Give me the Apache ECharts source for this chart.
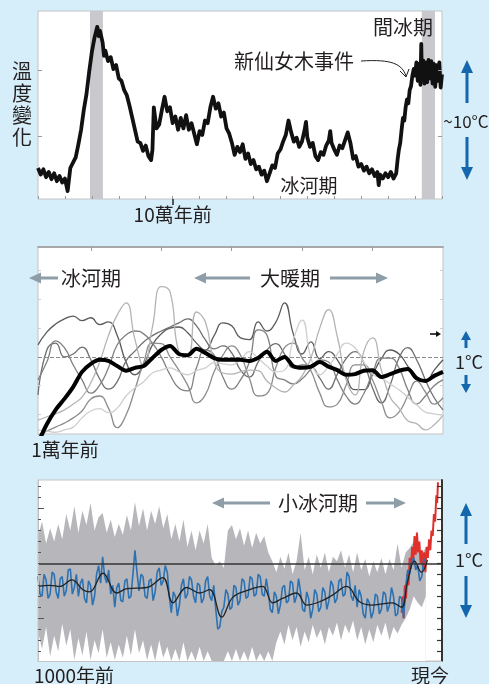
<!DOCTYPE html>
<html>
<head>
<meta charset="utf-8">
<script src="https://cdn.jsdelivr.net/npm/echarts@6/dist/echarts.min.js"></script>
<style>
  html, body { margin: 0; padding: 0; background: #d6eef9; }
  #main { width: 489px; height: 684px; }
</style>
</head>
<body>
<div id="main"></div>
<script>
// ---- panel 1: ice core, 150k years (kyr, degC) ----
const iceCore = [
  [-150,-14.8],[-149,-15.8],[-148,-15.0],[-147,-16.2],[-146,-15.4],[-145,-16.5],[-144,-15.6],[-143,-16.8],[-142,-16.0],[-141,-17.0],
  [-140,-16.4],[-139,-18.3],[-138,-14.8],[-137,-14.0],[-136,-13.2],[-135,-11.2],[-134,-9.0],[-133,-6.0],[-132,-3.6],[-131,-0.2],
  [-130,2.8],[-129,5.0],[-128.5,5.8],[-128,6.6],[-127.5,5.2],[-127,6.0],[-126,4.2],[-125.5,2.2],[-125,3.0],[-124,1.4],[-123,2.0],
  [-122,0.2],[-121,0.8],[-120,-1.2],[-119,-1.6],[-118,-3.0],[-117,-3.8],[-116,-5.4],[-115,-7.2],[-114,-9.0],[-113,-10.8],[-112,-11.0],
  [-111,-12.2],[-110,-11.4],[-109,-13.0],[-108,-13.6],[-107.5,-12.0],[-107,-5.6],[-106,-8.8],[-105,-8.2],[-104,-6.0],[-103,-4.0],
  [-102,-6.2],[-101,-5.6],[-100,-8.0],[-99,-7.0],[-98,-9.0],[-97,-7.2],[-96,-8.8],[-95,-6.8],[-94,-9.0],[-93,-8.0],[-92,-9.6],
  [-91,-11.2],[-90,-9.2],[-89,-9.8],[-88,-7.6],[-87,-8.0],[-86,-5.6],[-85,-4.0],[-84,-5.8],[-83,-5.0],[-82,-7.0],[-81,-6.4],
  [-80,-8.8],[-79,-9.6],[-78,-11.0],[-77,-12.8],[-76,-11.6],[-75,-12.4],[-74,-11.2],[-73,-13.4],[-72,-12.6],[-71,-14.2],[-70,-13.6],
  [-69,-15.0],[-68,-14.6],[-67,-15.8],[-66,-15.2],[-65,-16.8],[-64,-15.6],[-63,-14.4],[-62,-14.8],[-61,-12.6],[-60,-12.0],
  [-59,-10.8],[-58,-9.8],[-57,-7.6],[-56,-9.4],[-55,-10.8],[-54,-10.2],[-53,-11.6],[-52,-10.8],[-51,-9.0],[-50.5,-7.8],[-50,-10.2],
  [-49,-11.6],[-48,-11.0],[-47,-13.0],[-46,-13.6],[-45,-12.4],[-44,-12.8],[-43,-11.4],[-42,-10.6],[-41.5,-9.2],[-41,-11.0],
  [-40,-12.0],[-39,-12.8],[-38,-11.4],[-37,-11.8],[-36,-10.6],[-35,-9.4],[-34,-11.0],[-33,-13.4],[-32,-13.0],[-31,-14.6],
  [-30,-14.2],[-29,-15.2],[-28,-14.6],[-27,-15.6],[-26,-15.0],[-25,-16.0],[-24,-15.4],[-23.5,-17.4],[-23,-15.8],[-22,-16.4],
  [-21,-15.6],[-20,-16.2],[-19,-15.4],[-18,-16.4],[-17,-15.6],[-16.5,-13.6],[-16,-12.0],[-15.5,-11.0],[-15,-9.0],[-14.5,-7.2],
  [-14,-7.6],[-13.5,-5.6],[-13,-4.4],[-12.5,-5.0],[-12,-3.0],[-11.5,-2.4],[-11,-0.8],[-10.5,0.2],[-10,-0.8],[-9.5,1.2],[-9,-1.6],
  [-8.5,1.0],[-8,-2.2],[-7.7,4.0],[-7.5,-0.5],[-7,1.5],[-6.5,-2.0],[-6,1.2],[-5.5,-1.8],[-5,1.6],[-4.5,-1.2],[-4,1.4],[-3.5,-2.0],
  [-3,1.0],[-2.5,-2.5],[-2,0.8],[-1.5,-1.6],[-1,1.2],[-0.5,-2.6],[0,-0.6]
];
const warmBands = [[-130.7, -125.9], [-7.5, -2.6]];

// ---- panel 2: holocene reconstructions (kyr, degC) ----
const holoKyr = [-11.5,-11.25,-11,-10.75,-10.5,-10.25,-10,-9.75,-9.5,-9.25,-9,-8.75,-8.5,-8.25,-8,-7.75,-7.5,-7.25,-7,-6.75,
  -6.5,-6.25,-6,-5.75,-5.5,-5.25,-5,-4.75,-4.5,-4.25,-4,-3.75,-3.5,-3.25,-3,-2.75,-2.5,-2.25,-2,-1.75,-1.5,-1.25,-1,-0.75,-0.5,-0.25,0];
const proxyA = [0.21,0.43,0.57,0.66,0.71,0.63,0.68,0.56,0.61,0.37,-0.09,-0.31,-0.14,0.21,0.40,0.50,0.52,0.42,0.24,0.12,0.37,0.59,0.54,0.33,
  0.30,0.61,0.45,0.60,0.94,0.40,0.05,0.26,-0.03,0.09,-0.05,-0.35,-0.57,-0.57,-0.31,-0.03,0.12,0.05,-0.16,-0.40,-0.43,-0.23,-0.05];
const proxyB = [-0.66,0.12,0.24,0,0.05,0.17,-0.05,-0.38,-0.56,-0.43,-0.07,0.10,0.26,0.37,0.45,0.52,0.59,0.66,0.54,0.30,0.14,0.19,0.07,-0.23,
  -0.35,-0.09,0.12,0.23,0.05,-0.19,-0.14,-0.16,-0.37,-0.56,-0.30,-0.03,0.09,-0.10,-0.54,-0.80,-0.49,-0.02,0.16,-0.05,-0.40,-0.71,-0.92];
const proxyC = [-0.40,-0.09,0.28,0.16,-0.14,-0.40,-0.63,-0.49,-0.19,0.21,0.38,0.45,0.40,0.24,0,-0.31,-0.54,-0.59,-0.19,0.12,0.03,-0.35,-0.56,
  -0.40,-0.09,0.47,0.38,-0.33,-0.40,-0.47,-0.38,-0.21,-0.05,-0.09,-0.40,-0.68,-0.82,-0.64,-0.28,-0.02,-0.02,-0.19,-0.57,-0.82,-0.68,-0.50,-0.40];
const proxyD = [-1.36,-1.29,-1.22,-1.15,-1.06,-0.94,-0.73,-0.68,-0.89,-1.23,-1.01,-0.57,-0.10,0.24,0.23,0,-0.23,-0.49,-0.80,-0.66,-0.26,0.03,
  0.19,0.03,-0.37,-0.68,-0.64,-0.19,0.16,0.24,-0.02,-0.24,-0.63,-0.87,-0.82,-0.49,-0.14,-0.14,-0.40,-0.78,-1.06,-0.96,-0.68,-0.42,-0.61,-0.82,-0.71];
const proxyE = [-1.10,-1.04,-0.99,-0.92,-0.82,-0.70,-0.45,-0.09,0.37,0.73,0.94,0.31,-0.16,0.52,1.22,1.13,0.09,0.02,0.78,0.61,-0.07,-0.28,-0.30,
  -0.26,-0.23,-0.24,-0.42,-0.54,-0.61,-0.49,-0.33,-0.02,0.50,0.82,0.35,-0.40,-0.66,0.09,0.33,-0.23,-0.70,-0.89,-1.11,-1.16,-1.27,-1.18,-1.01];
const proxyF = [-1.27,-1.29,-1.31,-1.27,-1.22,-1.06,-0.94,-0.90,-0.97,-0.89,-0.68,-0.54,-0.43,-0.28,-0.23,-0.19,-0.26,-0.31,-0.24,-0.19,-0.10,
  -0.12,-0.14,-0.05,0.09,-0.02,-0.16,-0.26,-0.23,0.30,0.64,-0.02,-0.31,-0.16,0.05,0.24,0.16,-0.09,-0.30,-0.37,-0.47,-0.57,-0.70,-0.83,-0.96,-0.99,-1.01];
const holoMean = [-1.50,-1.17,-0.92,-0.73,-0.52,-0.26,-0.12,-0.05,-0.07,-0.16,-0.24,-0.19,-0.16,-0.02,0.12,0.19,0.05,0.03,0.14,0.07,-0.02,-0.05,
  -0.05,-0.05,-0.07,-0.02,0.09,-0.07,0,-0.16,-0.19,-0.17,-0.09,-0.17,-0.23,-0.31,-0.30,-0.24,-0.23,-0.35,-0.30,-0.24,-0.21,-0.37,-0.42,-0.33,-0.26];

// ---- panel 3: last millennium (year, degC) ----
// blue reconstruction, every 5 years from 1000
const blueStart = 1000, blueStep = 5;
const reconBlue = [
  -0.12,-0.28,-0.30,-0.10,-0.15,-0.32,-0.28,-0.08,-0.10,-0.26,-0.32,-0.14,-0.12,-0.30,-0.25,-0.06,-0.05,-0.28,-0.22,-0.10,
  -0.30,-0.18,-0.14,-0.32,-0.36,-0.16,-0.20,-0.38,-0.30,-0.10,-0.02,-0.18,0.06,-0.12,-0.18,-0.06,-0.28,-0.20,-0.40,-0.22,
  -0.18,-0.34,-0.35,-0.16,-0.14,-0.32,-0.30,-0.10,0.12,-0.08,-0.25,-0.10,-0.12,-0.30,-0.32,-0.16,-0.14,-0.34,-0.26,-0.08,
  -0.04,-0.20,-0.16,-0.02,-0.08,-0.30,-0.45,-0.26,-0.30,-0.48,-0.38,-0.20,-0.14,-0.32,-0.28,-0.12,-0.15,-0.30,-0.36,-0.18,
  -0.20,-0.36,-0.32,-0.16,-0.12,-0.30,-0.34,-0.20,-0.42,-0.60,-0.58,-0.44,-0.40,-0.24,-0.28,-0.42,-0.40,-0.20,-0.22,-0.38,
  -0.34,-0.14,-0.16,-0.32,-0.30,-0.12,-0.14,-0.30,-0.28,-0.10,-0.12,-0.28,-0.30,-0.14,-0.26,-0.42,-0.45,-0.26,-0.30,-0.46,
  -0.38,-0.22,-0.20,-0.36,-0.34,-0.16,-0.18,-0.36,-0.30,-0.14,-0.26,-0.42,-0.44,-0.26,-0.32,-0.50,-0.42,-0.24,-0.28,-0.44,
  -0.40,-0.22,-0.26,-0.42,-0.34,-0.16,-0.20,-0.36,-0.32,-0.16,-0.14,-0.30,-0.28,-0.08,-0.12,-0.30,-0.34,-0.20,-0.40,-0.24,
  -0.30,-0.46,-0.50,-0.32,-0.36,-0.50,-0.44,-0.28,-0.30,-0.46,-0.42,-0.26,-0.28,-0.44,-0.38,-0.22,-0.30,-0.48,-0.46,-0.30,
  -0.32,-0.50,-0.22,-0.06,-0.10,0.02,0.05,-0.06,-0.02,-0.16,-0.12,0.04,0.02];
// grey uncertainty band, every 10 years from 1000
const bandStart = 1000, bandStep = 10;
const reconUpper = [0.25,0.38,0.18,0.32,0.20,0.36,0.22,0.45,0.30,0.52,
  0.28,0.48,0.35,0.55,0.30,0.42,0.46,0.28,0.40,0.24,
  0.36,0.26,0.44,0.30,0.56,0.34,0.50,0.30,0.48,0.36,
  0.52,0.32,0.45,0.22,0.36,0.20,0.40,0.15,0.30,0.12,
  0.30,0.18,0.36,0.05,-0.02,0.02,-0.04,0.30,0.35,0.22,
  0.32,0.16,0.30,0.14,0.28,0.18,0.25,0.10,0.02,-0.08,
  0.06,-0.05,0.10,-0.10,0.02,0.28,-0.06,0.06,-0.10,0.08,
  -0.04,0.10,-0.08,0.06,0.02,0.12,-0.04,0.08,-0.08,0.10,
  -0.06,0.04,-0.12,0.02,-0.08,0.05,-0.10,0.04,-0.06,0.18,
  -0.04,0.10,0.14,0.20,0.12,0.08,0.15];
const reconLower = [-0.62,-0.78,-0.58,-0.85,-0.66,-0.80,-0.55,-0.75,-0.60,-0.88,
  -0.68,-0.84,-0.62,-0.88,-0.70,-0.82,-0.60,-0.86,-0.72,-0.88,
  -0.74,-0.86,-0.66,-0.84,-0.60,-0.82,-0.70,-0.88,-0.74,-0.89,
  -0.70,-0.86,-0.76,-0.89,-0.78,-0.89,-0.72,-0.89,-0.80,-0.89,
  -0.76,-0.89,-0.80,-0.89,-0.89,-0.89,-0.89,-0.80,-0.89,-0.78,
  -0.89,-0.80,-0.89,-0.76,-0.89,-0.82,-0.89,-0.80,-0.89,-0.72,
  -0.62,-0.74,-0.56,-0.70,-0.58,-0.76,-0.62,-0.72,-0.56,-0.68,
  -0.60,-0.74,-0.58,-0.66,-0.54,-0.70,-0.56,-0.64,-0.52,-0.70,
  -0.58,-0.74,-0.60,-0.72,-0.56,-0.66,-0.54,-0.70,-0.58,-0.64,
  -0.56,-0.50,-0.42,-0.30,-0.36,-0.40,-0.30];
const reconSmooth = [[1000,-0.21],[1030,-0.20],[1054,-0.21],[1084,-0.15],[1111,-0.24],[1128,-0.26],[1161,-0.09],[1195,-0.27],
  [1220,-0.23],[1269,-0.22],[1309,-0.13],[1334,-0.36],[1368,-0.22],[1400,-0.27],[1425,-0.24],[1455,-0.49],[1482,-0.31],
  [1524,-0.24],[1556,-0.21],[1581,-0.36],[1605,-0.32],[1640,-0.27],[1665,-0.38],[1697,-0.35],[1729,-0.29],[1764,-0.21],
  [1796,-0.35],[1828,-0.38],[1877,-0.36],[1900,-0.40],[1914,-0.18],[1932,0.02],[1949,-0.08],[1964,0.03]];
const instrumental = [[1900,-0.45],[1903,-0.30],[1905,-0.50],[1908,-0.20],[1911,-0.32],[1914,-0.10],[1917,-0.20],[1920,0.05],
  [1923,-0.05],[1926,0.15],[1929,0.02],[1932,0.25],[1935,0.08],[1938,0.28],[1941,0.10],[1944,0.20],[1947,0.00],[1950,0.12],
  [1953,-0.05],[1956,0.10],[1959,-0.08],[1962,0.15],[1965,0.05],[1968,0.22],[1971,0.12],[1974,0.30],[1977,0.25],[1980,0.45],
  [1983,0.38],[1986,0.62],[1988,0.55],[1990,0.74]];
const tenthTicks = [-0.8,-0.7,-0.6,-0.5,-0.4,-0.3,-0.2,-0.1,0,0.1,0.2,0.3,0.4,0.5,0.6,0.7];

const FONT = '"Noto Sans CJK TC", "Noto Sans", sans-serif';
const INK = '#231f20';
const BLUE = '#1466ad';
const ARROW_GREY = '#8d9ea8';
const FRAME = '#c4c4c4';

var myChart = echarts.init(document.getElementById('main'));

function pairs (xs, ys) {
  return ys.map((v, i) => [xs[i], v]);
}
const blueYears = reconBlue.map((_, i) => blueStart + i * blueStep);
const bandYears = reconUpper.map((_, i) => bandStart + i * bandStep);

function arrow (x1, y1, x2, y2, color, width, headLen, headW) {
  const len = Math.hypot(x2 - x1, y2 - y1);
  const ux = (x2 - x1) / len, uy = (y2 - y1) / len;
  const bx = x2 - ux * headLen, by = y2 - uy * headLen;
  return [
    {type: 'line', shape: {x1: x1, y1: y1, x2: bx, y2: by}, style: {stroke: color, lineWidth: width}},
    {type: 'polygon', shape: {points: [[x2, y2], [bx - uy * headW / 2, by + ux * headW / 2], [bx + uy * headW / 2, by - ux * headW / 2]]},
      style: {fill: color}}
  ];
}
function label (text, x, y, size, extra) {
  return {type: 'text', x: x, y: y, z: 100, style: Object.assign({
    text: text, fill: INK, font: size + 'px ' + FONT,
    align: 'center', verticalAlign: 'middle', textAlign: 'center', textVerticalAlign: 'middle'
  }, extra || {})};
}

const frame = {show: true, backgroundColor: '#fff', borderColor: FRAME, borderWidth: 1};
const noLine = {show: false, onZero: false};
function tickAxis (base, ticks) {
  return Object.assign({type: 'value', z: 10, axisLine: noLine, axisLabel: {show: false}, splitLine: {show: false},
    axisTick: Object.assign({show: true, inside: true}, ticks)}, base);
}
const proxyStyles = [
  {data: proxyA, color: '#5a5a5a'},
  {data: proxyB, color: '#6e6e6e'},
  {data: proxyC, color: '#808080'},
  {data: proxyD, color: '#8c8c8c'},
  {data: proxyE, color: '#b4b4b4'},
  {data: proxyF, color: '#cfcfcf'}
];

myChart.setOption({
  backgroundColor: '#d6eef9',
  animation: false,
  grid: [
    Object.assign({left: 38, top: 11, width: 404, height: 188}, frame),
    Object.assign({left: 38, top: 247, width: 405, height: 187}, frame),
    Object.assign({left: 38, top: 480, width: 404, height: 181}, frame)
  ],
  xAxis: [
    tickAxis({gridIndex: 0, min: -150, max: 0, interval: 10, position: 'bottom'},
      {length: 3, lineStyle: {color: '#9a9a9a'}}),
    {type: 'value', gridIndex: 0, min: -150, max: 0, position: 'bottom', z: 10,
      axisLine: noLine, splitLine: {show: false},
      axisTick: {show: true, customValues: [-100], length: 6, lineStyle: {color: INK, width: 1.5}},
      axisLabel: {show: true, customValues: [-100], formatter: () => '10萬年前', margin: 6, fontSize: 19, color: INK, fontFamily: FONT}},
    {type: 'value', gridIndex: 1, min: -11.5, max: 0, position: 'top', z: 10,
      axisLine: {show: true, onZero: false, lineStyle: {color: '#a8a8a8', width: 2}},
      axisTick: {show: true, customValues: [-10, -8, -6, -4, -2], inside: true, length: 4, lineStyle: {color: '#9a9a9a'}},
      axisLabel: {show: false}, splitLine: {show: false}},
    {type: 'value', gridIndex: 2, min: 1000, max: 2000, position: 'bottom', z: 10,
      axisLine: {show: true, onZero: false, lineStyle: {color: FRAME, width: 1}},
      axisTick: {show: false}, axisLabel: {show: false}, splitLine: {show: false}}
  ],
  yAxis: [
    tickAxis({gridIndex: 0, min: -19.5, max: 9, position: 'left'},
      {customValues: [-10, 0], length: 4, lineStyle: {color: '#9a9a9a'}}),
    tickAxis({gridIndex: 0, min: -19.5, max: 9, position: 'right'},
      {customValues: [-10, 0], length: 4, lineStyle: {color: '#9a9a9a'}}),
    tickAxis({gridIndex: 1, min: -1.34, max: 1.91, position: 'left'},
      {customValues: [-1, -0.5, 0.5, 1, 1.5], length: 3, lineStyle: {color: '#cfcfcf'}}),
    tickAxis({gridIndex: 1, min: -1.34, max: 1.91, position: 'right'},
      {customValues: [-1, -0.5, 0.5, 1, 1.5], length: 3, lineStyle: {color: '#cfcfcf'}}),
    Object.assign(tickAxis({gridIndex: 2, min: -0.89, max: 0.76, position: 'left'},
      {customValues: tenthTicks, length: 3, lineStyle: {color: '#555'}}),
      {axisLine: {show: true, onZero: false, lineStyle: {color: FRAME, width: 1}}}),
    tickAxis({gridIndex: 2, min: -0.89, max: 0.76, position: 'left'},
      {customValues: [-0.5, 0.5], length: 6, lineStyle: {color: '#555'}}),
    {type: 'value', gridIndex: 2, min: -0.89, max: 0.76, position: 'right', z: 10,
      axisLine: {show: true, onZero: false, lineStyle: {color: '#333', width: 2}},
      axisTick: {show: true, customValues: tenthTicks, inside: true, length: 5, lineStyle: {color: '#333', width: 1.2}},
      axisLabel: {show: false}, splitLine: {show: false}}
  ],
  series: [
    // panel 1
    {
      type: 'line', xAxisIndex: 0, yAxisIndex: 0, data: iceCore, symbol: 'none',
      lineStyle: {color: '#111', width: 3.8, join: 'round'}, clip: true,
      markArea: {silent: true, itemStyle: {color: '#c9c9cd'},
        data: warmBands.map(b => [{xAxis: b[0]}, {xAxis: b[1]}])}
    },
    // panel 2
    ...proxyStyles.map(p => ({
      type: 'line', xAxisIndex: 2, yAxisIndex: 2, data: pairs(holoKyr, p.data), symbol: 'none', smooth: 0.5,
      lineStyle: {color: p.color, width: 1.3}, clip: true
    })),
    {
      type: 'line', xAxisIndex: 2, yAxisIndex: 2, data: pairs(holoKyr, holoMean), symbol: 'none', smooth: 0.3,
      lineStyle: {color: '#000', width: 4}, clip: true, z: 5,
      markLine: {silent: true, symbol: 'none', label: {show: false},
        lineStyle: {type: 'dashed', color: '#8a8a8a', width: 1}, data: [{yAxis: 0}]}
    },
    // panel 3: grey uncertainty band = grey fill under upper bound, white fill under lower bound
    {
      type: 'line', xAxisIndex: 3, yAxisIndex: 4, data: pairs(bandYears, reconUpper), symbol: 'none',
      lineStyle: {width: 0, opacity: 0}, areaStyle: {color: '#b7b7bb', opacity: 1, origin: 'start'}, clip: true
    },
    {
      type: 'line', xAxisIndex: 3, yAxisIndex: 4, data: pairs(bandYears, reconLower), symbol: 'none',
      lineStyle: {width: 0, opacity: 0}, areaStyle: {color: '#ffffff', opacity: 1, origin: 'start'}, clip: true
    },
    {
      type: 'line', xAxisIndex: 3, yAxisIndex: 4, data: instrumental, symbol: 'none',
      lineStyle: {color: '#e0302c', width: 2}, clip: true
    },
    {
      type: 'line', xAxisIndex: 3, yAxisIndex: 4, data: pairs(blueYears, reconBlue), symbol: 'none',
      lineStyle: {color: '#2c72b3', width: 1.6}, clip: true
    },
    {
      type: 'line', xAxisIndex: 3, yAxisIndex: 4, data: reconSmooth, symbol: 'none', smooth: 0.4,
      lineStyle: {color: '#222', width: 1.3}, clip: true,
      markLine: {silent: true, symbol: 'none', label: {show: false},
        lineStyle: {type: 'solid', color: '#333', width: 1.5}, data: [{yAxis: 0}]}
    }
  ],
  graphic: [
    // panel 1 texts and arrows
    label('溫\n度\n變\n化', 22, 104, 20, {lineHeight: 22}),
    label('間冰期', 403, 27, 20),
    label('新仙女木事件', 294, 61, 20),
    label('冰河期', 309, 186, 19),
    label('~10°C', 466, 122, 17),
    {type: 'bezierCurve', z: 100, shape: {x1: 361, y1: 61, cpx1: 392, cpy1: 59, cpx2: 402, cpy2: 64, x2: 406, y2: 76},
      style: {stroke: INK, lineWidth: 1, fill: null}},
    {type: 'polyline', z: 100, shape: {points: [[400, 71], [406, 77], [409, 69]]}, style: {stroke: INK, lineWidth: 1, fill: null}},
    ...arrow(467, 103, 467, 60, BLUE, 3, 13, 12),
    ...arrow(467, 137, 467, 180, BLUE, 3, 13, 12),
    // panel 2
    label('冰河期', 91, 278, 20),
    label('大暖期', 290, 278, 20),
    label('1萬年前', 65, 450, 19),
    label('1°C', 469, 362, 18),
    ...arrow(58, 278, 29, 278, ARROW_GREY, 3, 12, 11),
    ...arrow(250, 278, 194, 278, ARROW_GREY, 3, 12, 11),
    ...arrow(330, 278, 388, 278, ARROW_GREY, 3, 12, 11),
    ...arrow(430, 334, 441, 334, '#111', 1.6, 5, 6),
    ...arrow(466, 348, 466, 331, BLUE, 3, 9, 10),
    ...arrow(466, 375, 466, 393, BLUE, 3, 9, 10),
    // panel 3
    label('小冰河期', 318, 503, 20),
    label('1000年前', 74, 676, 19),
    label('現今', 430, 676, 19),
    label('1°C', 469, 560, 18),
    ...arrow(270, 503, 212, 503, ARROW_GREY, 3, 12, 11),
    ...arrow(366, 503, 406, 503, ARROW_GREY, 3, 12, 11),
    ...arrow(466, 544, 466, 503, BLUE, 3, 13, 12),
    ...arrow(466, 576, 466, 618, BLUE, 3, 13, 12)
  ]
});
</script>
</body>
</html>
